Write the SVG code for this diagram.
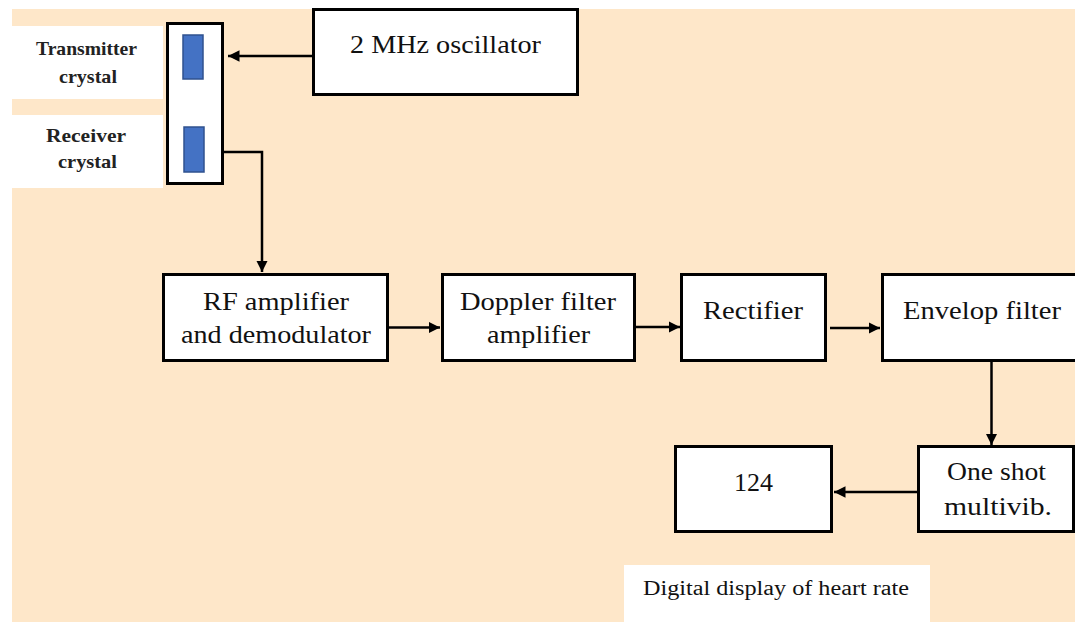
<svg xmlns="http://www.w3.org/2000/svg" width="1075" height="622" viewBox="0 0 1075 622">
<style>
.box{fill:#fff;stroke:#000;stroke-width:3}
.t{font-family:"Liberation Serif",serif;font-size:26px;fill:#111;text-anchor:middle}
.s{font-family:"Liberation Serif",serif;font-size:19px;font-weight:bold;fill:#222;text-anchor:middle}
.d{font-family:"Liberation Serif",serif;font-size:20px;fill:#111;text-anchor:middle}
.c{fill:none;stroke:#000;stroke-width:2.5}
.xtal{fill:#4472C4;stroke:#2F528F;stroke-width:1.5}
.lbl{fill:#fff}
</style>
<defs>
<marker id="ah" viewBox="0 0 10 10" refX="10" refY="5" markerWidth="4.6" markerHeight="4.6" orient="auto" markerUnits="strokeWidth">
<path d="M0,0 L10,5 L0,10 z" fill="#000"/>
</marker>
</defs>
<rect x="0" y="0" width="1075" height="622" fill="#fff"/>
<rect x="12" y="9" width="1063" height="613" fill="#FEE7C9"/>
<g font-family="'Liberation Serif', serif">
<g id="transmitter-label">
<rect class="lbl" x="12" y="26" width="151" height="73"/>
<text class="s" x="86.5" y="55" textLength="101" lengthAdjust="spacingAndGlyphs">Transmitter</text>
<text class="s" x="88" y="83" textLength="58" lengthAdjust="spacingAndGlyphs">crystal</text>
</g>
<g id="receiver-label">
<rect class="lbl" x="12" y="115" width="151" height="73"/>
<text class="s" x="86" y="142" textLength="80" lengthAdjust="spacingAndGlyphs">Receiver</text>
<text class="s" x="87.5" y="168" textLength="59" lengthAdjust="spacingAndGlyphs">crystal</text>
</g>
<g id="probe">
<rect class="box" x="167.5" y="23.5" width="55" height="160"/>
<rect class="xtal" x="183" y="35" width="20" height="44"/>
<rect class="xtal" x="184" y="127" width="20" height="45"/>
</g>
<g id="oscillator">
<rect class="box" x="313.5" y="9.5" width="264" height="85"/>
<text class="t" x="445.5" y="53" textLength="191" lengthAdjust="spacingAndGlyphs">2 MHz oscillator</text>
</g>
<g id="rf">
<rect class="box" x="163.5" y="274.5" width="224" height="86"/>
<text class="t" x="276" y="310" textLength="146" lengthAdjust="spacingAndGlyphs">RF amplifier</text>
<text class="t" x="276" y="343" textLength="190" lengthAdjust="spacingAndGlyphs">and demodulator</text>
</g>
<g id="doppler">
<rect class="box" x="442.5" y="274.5" width="192" height="86"/>
<text class="t" x="538" y="310" textLength="156" lengthAdjust="spacingAndGlyphs">Doppler filter</text>
<text class="t" x="538.5" y="343" textLength="103" lengthAdjust="spacingAndGlyphs">amplifier</text>
</g>
<g id="rectifier">
<rect class="box" x="681.5" y="274.5" width="144" height="86"/>
<text class="t" x="753" y="319" textLength="100" lengthAdjust="spacingAndGlyphs">Rectifier</text>
</g>
<g id="envelop">
<rect class="box" x="882.5" y="274.5" width="200" height="86"/>
<text class="t" x="982" y="319" textLength="158" lengthAdjust="spacingAndGlyphs">Envelop filter</text>
</g>
<g id="oneshot">
<rect class="box" x="918.5" y="446.5" width="155" height="85"/>
<text class="t" x="996.5" y="480" textLength="99" lengthAdjust="spacingAndGlyphs">One shot</text>
<text class="t" x="998" y="515" textLength="108" lengthAdjust="spacingAndGlyphs">multivib.</text>
</g>
<g id="display">
<rect class="box" x="675.5" y="446.5" width="156" height="85"/>
<text class="t" x="753.5" y="491" textLength="39" lengthAdjust="spacingAndGlyphs">124</text>
</g>
<g id="display-label">
<rect class="lbl" x="624" y="565" width="306" height="57"/>
<text class="d" x="776" y="595" textLength="266" lengthAdjust="spacingAndGlyphs">Digital display of heart rate</text>
</g>
</g>
<g id="connectors">
<path class="c" d="M313,56 H228" marker-end="url(#ah)"/>
<path class="c" d="M223,152 H262 V272" marker-end="url(#ah)"/>
<path class="c" d="M388,327.5 H440" marker-end="url(#ah)"/>
<path class="c" d="M635,327 H680" marker-end="url(#ah)"/>
<path class="c" d="M830,328 H880" marker-end="url(#ah)"/>
<path class="c" d="M991.5,361 V445" marker-end="url(#ah)"/>
<path class="c" d="M918,492 H834" marker-end="url(#ah)"/>
</g>
</svg>
